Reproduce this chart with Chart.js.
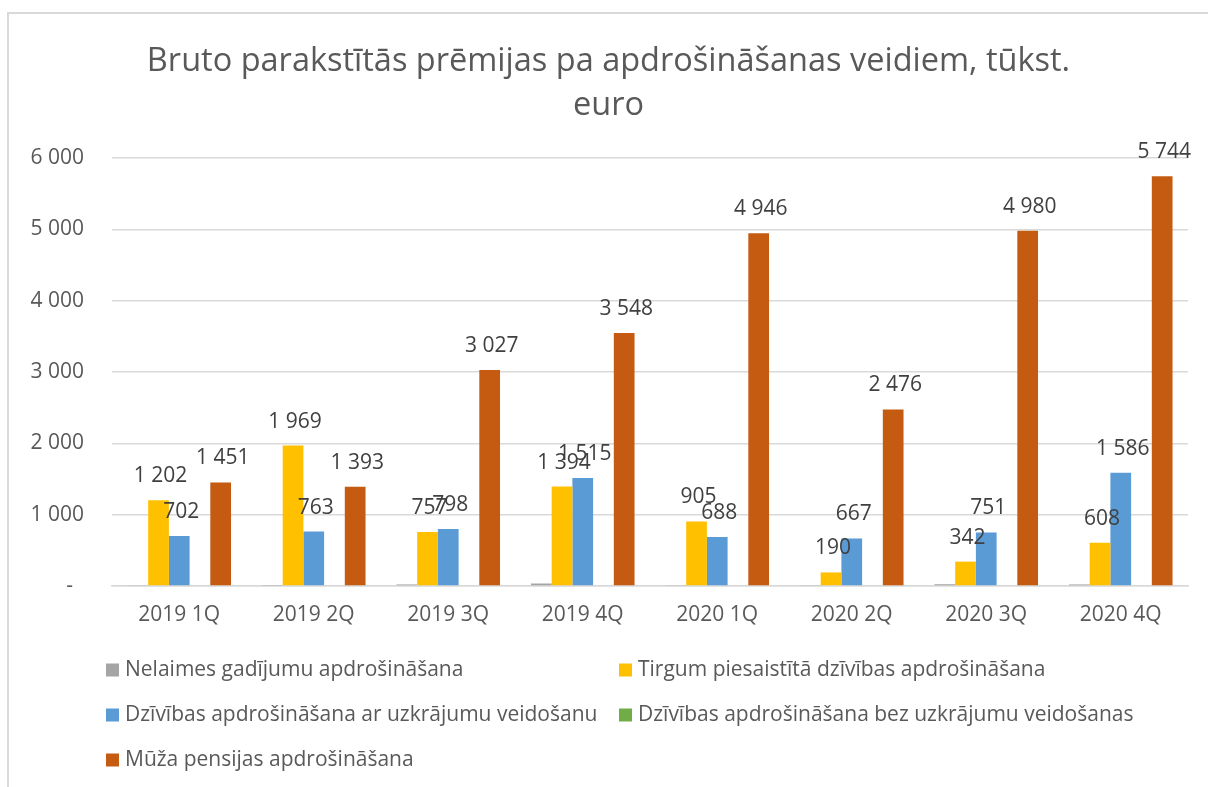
<!DOCTYPE html>
<html><head><meta charset="utf-8">
<script src="https://cdn.jsdelivr.net/npm/chart.js@4.4.1/dist/chart.umd.min.js"></script>
<style>
html,body{margin:0;padding:0;background:#fff;overflow:hidden;width:1208px;height:787px}
#frame{position:absolute;left:7px;top:12px;width:1300px;height:900px;border-top:2px solid #d9d9d9;border-left:2px solid #d9d9d9;box-sizing:border-box}
#c{position:absolute;left:0;top:0}
</style></head><body>
<div id="frame"></div>
<canvas id="c" width="1208" height="787"></canvas>
<script>
const categories = ['2019 1Q','2019 2Q','2019 3Q','2019 4Q','2020 1Q','2020 2Q','2020 3Q','2020 4Q'];
const seriesNames = ['Nelaimes gadījumu apdrošināšana','Tirgum piesaistītā dzīvības apdrošināšana','Dzīvības apdrošināšana ar uzkrājumu veidošanu','Dzīvības apdrošināšana bez uzkrājumu veidošanas','Mūža pensijas apdrošināšana'];
const nelaimes = [8, 6, 22, 35, 8, 8, 25, 22];
const tirgum = [1202, 1969, 757, 1394, 905, 190, 342, 608];
const arUzkrajumu = [702, 763, 798, 1515, 688, 667, 751, 1586];
const bezUzkrajumu = [0, 0, 0, 0, 0, 0, 0, 0];
const muzaPensijas = [1451, 1393, 3027, 3548, 4946, 2476, 4980, 5744];
const yTickValues = [0, 1000, 2000, 3000, 4000, 5000, 6000];
const titleLines = ['Bruto parakstītās prēmijas pa apdrošināšanas veidiem, tūkst.', 'euro'];

const colors = ['#A5A5A5','#FFC000','#5B9BD5','#70AD47','#C55A11'];
const FONT = '"Open Sans", Lato, sans-serif';

function fmt(v){ return v === 0 ? '-' : String(v).replace(/\B(?=(\d{3})+(?!\d))/g, ' '); }

const seriesData = [nelaimes, tirgum, arUzkrajumu, bezUzkrajumu, muzaPensijas];
const showLabels = [false, true, true, false, true];

const datasets = seriesData.map((d, i) => ({
  label: seriesNames[i],
  data: d,
  backgroundColor: colors[i],
  borderWidth: 0,
  barPercentage: 1.0,
  categoryPercentage: 0.77,
  showLabels: showLabels[i]
}));

const valueLabels = {
  id: 'valueLabels',
  afterDatasetsDraw(chart){
    const ctx = chart.ctx;
    ctx.save();
    ctx.font = '21px ' + FONT;
    ctx.fillStyle = '#404040';
    ctx.textAlign = 'center';
    ctx.textBaseline = 'alphabetic';
    chart.data.datasets.forEach((ds, i) => {
      if (!ds.showLabels) return;
      const meta = chart.getDatasetMeta(i);
      meta.data.forEach((bar, j) => {
        ctx.fillText(fmt(ds.data[j]), bar.x + 2, bar.y - 18);
      });
    });
    ctx.restore();
  }
};

const bottomLegend = {
  id: 'bottomLegend',
  afterDraw(chart){
    const ctx = chart.ctx;
    const cols = [106, 619];
    const rows = [670, 715, 760];
    ctx.save();
    ctx.font = '21px ' + FONT;
    ctx.textBaseline = 'middle';
    ctx.textAlign = 'left';
    chart.data.datasets.forEach((ds, i) => {
      const x = cols[i % 2], y = rows[Math.floor(i / 2)];
      ctx.fillStyle = ds.backgroundColor;
      ctx.fillRect(x, y - 6.5, 13, 13);
      ctx.fillStyle = '#595959';
      ctx.fillText(ds.label, x + 19, y);
    });
    ctx.restore();
  }
};

new Chart(document.getElementById('c'), {
  type: 'bar',
  data: { labels: categories, datasets },
  plugins: [valueLabels, bottomLegend],
  options: {
    responsive: false,
    animation: false,
    devicePixelRatio: 1,
    layout: { padding: { left: 29, right: 20, top: 0, bottom: 161 } },
    plugins: {
      legend: { display: false },
      tooltip: { enabled: false },
      title: {
        display: true,
        text: titleLines,
        color: '#595959',
        font: { family: FONT, size: 32.5, weight: 'normal', lineHeight: 44/32.5 },
        padding: { top: 40, bottom: 30 }
      }
    },
    scales: {
      x: {
        grid: { display: false, drawTicks: false },
        border: { display: true, color: '#d9d9d9', width: 1.5 },
        ticks: { color: '#595959', font: { family: FONT, size: 21 }, padding: 16, maxRotation: 0 },
        afterFit(s){ s.height = 40; }
      },
      y: {
        min: 0, max: 6000,
        afterBuildTicks(s){ s.ticks = yTickValues.map(v => ({ value: v })); },
        grid: { color: '#d9d9d9', lineWidth: 1.5, drawTicks: false },
        border: { display: false },
        ticks: { color: '#595959', font: { family: FONT, size: 21 }, padding: 28, callback: v => v === 0 ? '-  ' : fmt(v) },
        afterFit(s){ s.width = 83; }
      }
    }
  }
});
</script>
</body></html>
